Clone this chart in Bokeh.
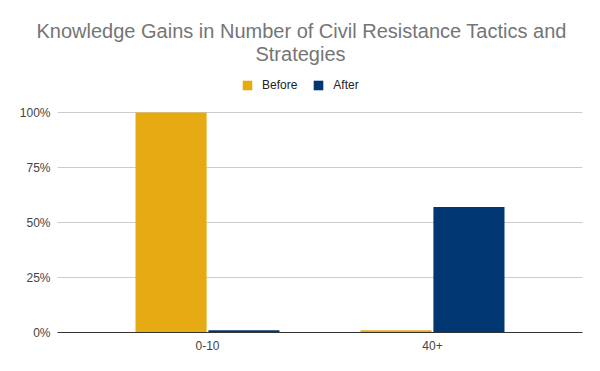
from bokeh.plotting import figure
from bokeh.models import (ColumnDataSource, FactorRange, Range1d, FixedTicker,
                          NumeralTickFormatter, Label, Legend, LegendItem, Title)
from bokeh.transform import dodge
from bokeh.embed import file_html
from bokeh.resources import INLINE

categories = ["0-10", "40+"]
before = [1.00, 0.01]
after = [0.01, 0.57]
series_names = ["Before", "After"]
y_ticks = [0, 0.25, 0.5, 0.75, 1.0]
title_lines = ["Knowledge Gains in Number of Civil Resistance Tactics and", "Strategies"]

GOLD = "#e6ab13"
NAVY = "#003772"
FONT = "Liberation Sans"

TOP = 42          # frame top (px from figure top)
BASE = 332        # 0% line
PX100 = 220       # px between 0% and 100%

src = ColumnDataSource(dict(cat=categories, before=before, after=after))
frame_h = BASE - TOP
p = figure(width=592, height=BASE + 31, output_backend="svg", toolbar_location=None,
           x_range=FactorRange(factors=categories, range_padding=0.1667,
                               range_padding_units="absolute"),
           y_range=Range1d(0, frame_h / PX100),
           min_border_left=57, min_border_right=10, min_border_top=TOP,
           min_border_bottom=31)
p.outline_line_color = None
p.background_fill_color = "white"
p.border_fill_color = "white"

r1 = p.vbar(x=dodge("cat", -0.162, range=p.x_range), top="before", width=0.316,
            source=src, color=GOLD, line_color=None)
r2 = p.vbar(x=dodge("cat", 0.162, range=p.x_range), top="after", width=0.316,
            source=src, color=NAVY, line_color=None)

p.xgrid.grid_line_color = None
p.ygrid.ticker = FixedTicker(ticks=y_ticks)
p.ygrid.grid_line_color = "#cccccc"
p.ygrid.grid_line_width = 1

p.yaxis.ticker = FixedTicker(ticks=y_ticks)
p.yaxis.formatter = NumeralTickFormatter(format="0%")
p.yaxis.axis_line_color = None
p.yaxis.major_tick_line_color = None
p.yaxis.minor_tick_line_color = None
p.yaxis.major_tick_out = 0
p.yaxis.major_label_standoff = 7
p.yaxis.major_label_text_font = FONT
p.yaxis.major_label_text_font_size = "12px"
p.yaxis.major_label_text_color = "#444444"

p.xaxis.axis_line_color = "#333333"
p.xaxis.axis_line_width = 1
p.xaxis.major_tick_line_color = None
p.xaxis.minor_tick_line_color = None
p.xaxis.major_tick_out = 0
p.xaxis.major_label_standoff = 8
p.xaxis.major_label_text_font = FONT
p.xaxis.major_label_text_font_size = "12px"
p.xaxis.major_label_text_color = "#444444"

# first title line in the panel above the frame (it is wider than the frame)
p.add_layout(Title(text=title_lines[0], align="left", offset=-21, standoff=0,
                   vertical_align="middle", text_font=FONT, text_font_size="20px",
                   text_font_style="normal", text_color="#757575"), "above")
# second title line inside the frame area
p.add_layout(Label(x=300 - 57, y=BASE - 53, x_units="screen", y_units="screen",
                   text=title_lines[1], text_align="center", text_baseline="middle",
                   text_font=FONT, text_font_size="20px", text_color="#757575"))

legend = Legend(items=[LegendItem(label=series_names[0], renderers=[r1]),
                       LegendItem(label=series_names[1], renderers=[r2])],
                orientation="horizontal", location=(184, BASE - 85 - 7),
                glyph_width=12, glyph_height=12, label_standoff=9, spacing=15,
                padding=0, margin=0, border_line_color=None,
                background_fill_alpha=0,
                label_text_font=FONT, label_text_font_size="12px",
                label_text_color="#222222", label_height=14)
p.add_layout(legend, "center")

open("out.html", "w").write(file_html(p, INLINE))
